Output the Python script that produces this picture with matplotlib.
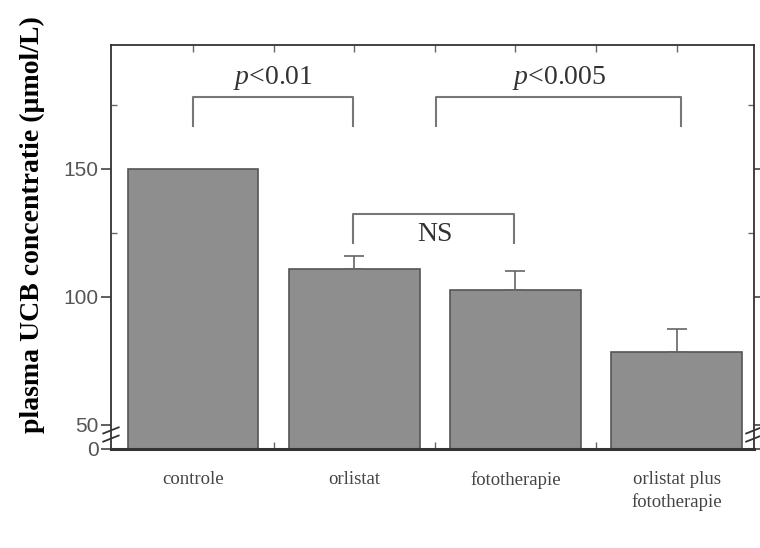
# plasma UCB concentration per treatment group, bar chart with broken y-axis
import matplotlib
matplotlib.use("Agg")
import matplotlib.pyplot as plt
import matplotlib.transforms as mtrans

plt.rcParams["mathtext.fontset"] = "custom"
plt.rcParams["mathtext.it"] = "Liberation Serif:italic"
plt.rcParams["mathtext.rm"] = "Liberation Serif"

categories = ["controle", "orlistat", "fototherapie", "orlistat plus\nfototherapie"]
means = [150.0, 111.0, 102.5, 78.5]
err_up = [0.0, 5.0, 7.5, 9.0]
ytick_vals = [0, 50, 100, 150]
ytick_labels = ["0", "50", "100", "150"]

# the axis is broken between 0 and 50: zero sits a bit below 50
ZERO_POS = 40.6

def ypos(v):
    return ZERO_POS if v == 0 else v

fig = plt.figure(figsize=(7.6, 5.48), dpi=100)
ax = fig.add_axes([0.146, 0.181, 0.846, 0.737])

x = list(range(len(categories)))
heights = [m - ZERO_POS for m in means]
ax.bar(x, heights, bottom=ZERO_POS, width=0.81, color="#8e8e8e",
       edgecolor="#555555", linewidth=1.2, zorder=2)
ex = [i for i in x if err_up[i] > 0]
ax.errorbar(ex, [means[i] for i in ex], yerr=[[0] * len(ex), [err_up[i] for i in ex]],
            fmt="none", ecolor="#666666", elinewidth=1.2, capsize=7, capthick=1.2, zorder=3)

ax.set_xlim(-0.51, 3.48)
ax.set_ylim(ZERO_POS, 198.5)
ax.set_yticks([ypos(v) for v in ytick_vals])
ax.set_yticklabels(ytick_labels, family="Liberation Sans", fontsize=15, color="#555555")
ax.set_yticks([125, 175], minor=True)
ax.tick_params(axis="y", which="major", direction="out", length=7, width=1.2, color="#444444", pad=2)
ax.tick_params(axis="y", which="minor", direction="in", length=4, width=1.0, color="#666666")
ax.tick_params(axis="y", right=True, which="both", labelright=False)

ax.set_xticks(x)
ax.set_xticklabels(categories, family="Liberation Serif", fontsize=13.5, color="#444444",
                   linespacing=1.4, va="top")
ax.set_xticks([0.5, 1.5, 2.5], minor=True)
ax.tick_params(axis="x", which="both", direction="in", length=5, width=1.0, top=True,
               color="#666666", pad=16)
ax.tick_params(axis="x", which="major", bottom=False)

for s in ["left", "right", "top"]:
    ax.spines[s].set_linewidth(1.3)
    ax.spines[s].set_color("#333333")
ax.spines["bottom"].set_linewidth(2.2)
ax.spines["bottom"].set_color("#333333")

ax.set_ylabel("plasma UCB concentratie (µmol/L)", family="Liberation Serif",
              fontsize=20, fontweight="bold")
ax.yaxis.set_label_coords(-0.103, 0.555)

# break marks on both vertical spines
for xs in (0.0, 1.0):
    tr = mtrans.blended_transform_factory(ax.transAxes, ax.transData)
    for yb in (47.8, 44.6):
        ax.plot([xs - 0.012, xs + 0.012], [yb - 1.2, yb + 1.2], transform=tr,
                color="#333333", lw=1.3, clip_on=False, zorder=5)

# significance brackets
def bracket(x0, x1, ytop, ybot, label, ytext):
    ax.plot([x0, x0, x1, x1], [ybot, ytop, ytop, ybot], color="#777777", lw=1.5, zorder=4)
    ax.text((x0 + x1) / 2, ytext, label, ha="center", va="center",
            family="Liberation Serif", fontsize=20, color="#333333")

bracket(0, 0.99, 178.0, 167.0, r"$\mathit{p}$<0.01", 185.5)
bracket(1.51, 3.03, 178.0, 167.0, r"$\mathit{p}$<0.005", 185.5)
ax.plot([0.99, 0.99, 1.99, 1.99], [121.0, 132.4, 132.4, 121.0], color="#777777", lw=1.5, zorder=4)
ax.text(1.5, 124.5, "NS", ha="center", va="center", family="Liberation Serif",
        fontsize=20, color="#333333")

fig.savefig("out.png", dpi=100)
